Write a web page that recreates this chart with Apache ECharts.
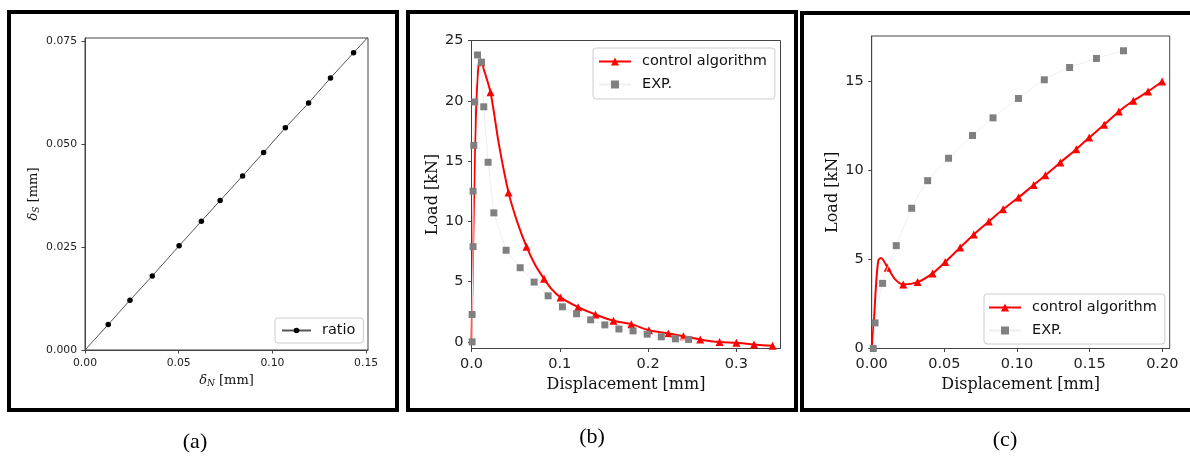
<!DOCTYPE html>
<html><head><meta charset="utf-8">
<script src="https://cdn.jsdelivr.net/npm/echarts@6/dist/echarts.min.js"></script>
<style>html,body{margin:0;padding:0;background:#fff}#c{width:1190px;height:462px}</style>
</head><body><div id="c"></div>
<script>
// ---------- Panel (a): delta_S vs delta_N ----------
const ratioX = [0.0124, 0.0240, 0.0359, 0.0502, 0.0621, 0.0721, 0.0841, 0.0953, 0.1069, 0.1193, 0.1310, 0.1433];
const ratioY = [0.0062, 0.0121, 0.0180, 0.0253, 0.0313, 0.0363, 0.0423, 0.0480, 0.0540, 0.0600, 0.0661, 0.0722];
const ratioLineX = [0, 0.152];          // line continues to the axes' ends (no markers)
const ratioLineY = [0, 0.0765];
const aTicksX = [0, 0.05, 0.10, 0.15];
const aTicksY = [0, 0.025, 0.050, 0.075];

// ---------- Panel (b) ----------
const algoBX = [0.0113, 0.0215, 0.0419, 0.0623, 0.0822, 0.1008, 0.1207, 0.1404, 0.1608, 0.181, 0.201, 0.223, 0.240, 0.259, 0.281, 0.300, 0.320, 0.341];
const algoBY = [23.2, 20.7, 12.4, 7.9, 5.23, 3.69, 2.88, 2.27, 1.75, 1.47, 0.97, 0.70, 0.47, 0.20, -0.02, -0.08, -0.22, -0.33];
const algoBCurveX = [0, 0.0018, 0.0040, 0.0058, 0.0078, 0.0094, 0.031, 0.052, 0.072, 0.091];   // curve nodes without markers
const algoBCurveY = [0, 7.9, 16.3, 20.5, 22.9, 23.45, 16.4, 9.9, 6.4, 4.35];
const expBX = [0.0007, 0.0007, 0.0018, 0.0018, 0.0026, 0.0037, 0.0068, 0.0113, 0.0139, 0.0188, 0.0253, 0.0392, 0.0551, 0.0709, 0.0868, 0.103, 0.119, 0.135, 0.151, 0.167, 0.183, 0.199, 0.215, 0.231, 0.246];
const expBY = [0, 2.27, 7.9, 12.5, 16.3, 19.9, 23.8, 23.2, 19.5, 14.9, 10.7, 7.6, 6.15, 4.96, 3.82, 2.91, 2.33, 1.83, 1.41, 1.07, 0.91, 0.64, 0.42, 0.25, 0.20];
const bTicksX = [0, 0.1, 0.2, 0.3];
const bTicksY = [0, 5, 10, 15, 20, 25];

// ---------- Panel (c) ----------
const algoCX = [0.011, 0.0217, 0.0316, 0.0419, 0.0506, 0.0609, 0.0703, 0.0806, 0.0904, 0.101, 0.1115, 0.1195, 0.1298, 0.1408, 0.1497, 0.160, 0.1701, 0.180, 0.1902, 0.1999];
const algoCY = [4.54, 3.60, 3.73, 4.22, 4.86, 5.68, 6.41, 7.13, 7.82, 8.48, 9.19, 9.73, 10.45, 11.2, 11.85, 12.57, 13.32, 13.92, 14.44, 15.0];
const algoCCurveX = [0, 0.0015, 0.0030, 0.0046, 0.0064, 0.016];
const algoCCurveY = [0, 1.5, 3.6, 4.97, 5.08, 3.9];
const expCX = [0.0011, 0.0023, 0.0075, 0.0169, 0.0275, 0.0385, 0.0529, 0.0694, 0.0835, 0.101, 0.1188, 0.1362, 0.1547, 0.1733];
const expCY = [0, 1.44, 3.66, 5.78, 7.88, 9.43, 10.69, 11.97, 12.96, 14.05, 15.1, 15.79, 16.3, 16.73];
const cTicksX = [0, 0.05, 0.10, 0.15, 0.20];
const cTicksY = [0, 5, 10, 15];

const panelLabels = ['(a)', '(b)', '(c)'];
const seriesNames = ['ratio', 'control algorithm', 'EXP.'];

// ---------- helpers ----------
const zip = (xs, ys) => xs.map((x, i) => [x, ys[i]]);
function merged(markX, markY, plainX, plainY) {
  const a = zip(markX, markY).map(p => ({ value: p }));
  const b = zip(plainX, plainY).map(p => ({ value: p, symbol: 'none' }));
  return a.concat(b).sort((p, q) => p.value[0] - q.value[0]);
}
const SANS = 'DejaVu Sans', SERIF = 'DejaVu Serif';
const AX = '#444';

function valueAxis(gi, min, max, ticks, dec, fs, name, gap, nameStyle) {
  return {
    type: 'value', gridIndex: gi, min: min, max: max,
    axisLine: { show: true, onZero: false, lineStyle: { color: AX, width: 1 } },
    axisTick: { show: true, length: 3.5, inside: false, customValues: ticks, lineStyle: { color: AX } },
    axisLabel: { customValues: ticks, formatter: v => Number(v).toFixed(dec), fontFamily: SANS, fontSize: fs, color: '#222', margin: 8 },
    splitLine: { show: false },
    name: name, nameLocation: 'middle', nameGap: gap, nameTextStyle: nameStyle
  };
}
const richName = (fs) => ({
  fontFamily: SERIF, fontSize: fs, color: '#111',
  rich: {
    d: { fontFamily: SERIF, fontStyle: 'italic', fontSize: fs, color: '#111' },
    s: { fontFamily: SERIF, fontStyle: 'italic', fontSize: Math.round(fs * 0.7), color: '#111', padding: [6, 0, 0, 0] },
    t: { fontFamily: SERIF, fontSize: fs, color: '#111' }
  }
});
const serifName = { fontFamily: SERIF, fontSize: 16, color: '#111' };

const legendBase = {
  orient: 'vertical', backgroundColor: 'rgba(255,255,255,0.8)', borderColor: '#cccccc', borderWidth: 1, borderRadius: 3,
  textStyle: { fontFamily: SANS, fontSize: 14.5, color: '#111', padding: [0, 0, 0, 6] },
  selectedMode: false
};

const option = {
  animation: false,
  backgroundColor: '#fff',
  grid: [
    { left: 85, top: 38, width: 283, height: 312, show: true, borderColor: AX, borderWidth: 1 },
    { left: 471.5, top: 40.5, width: 309, height: 308, show: true, borderColor: AX, borderWidth: 1 },
    { left: 871.7, top: 36, width: 298, height: 312.5, show: true, borderColor: AX, borderWidth: 1 }
  ],
  xAxis: [
    valueAxis(0, 0, 0.151, aTicksX, 2, 10.8, '{d|δ}{s|N}{t| [mm]}', 20, richName(13)),
    valueAxis(1, 0, 0.35, bTicksX, 1, 14.5, 'Displacement [mm]', 25, serifName),
    valueAxis(2, 0, 0.2051, cTicksX, 2, 14.5, 'Displacement [mm]', 24, serifName)
  ],
  yAxis: [
    valueAxis(0, 0, 0.0758, aTicksY, 3, 10.8, '{d|δ}{s|S}{t| [mm]}', 44, richName(13)),
    valueAxis(1, -0.55, 25, bTicksY, 0, 14.5, 'Load [kN]', 31, serifName),
    valueAxis(2, 0, 17.56, cTicksY, 0, 14.5, 'Load [kN]', 31, serifName)
  ],
  legend: [
    Object.assign({}, legendBase, { data: [seriesNames[0]], left: 275, top: 318, padding: [5, 8, 5, 6], itemWidth: 29, itemHeight: 7 }),
    Object.assign({}, legendBase, { data: [seriesNames[1], seriesNames[2]], left: 593, top: 48, padding: [6, 8, 7, 5], itemWidth: 32, itemHeight: 10, itemGap: 8 }),
    Object.assign({}, legendBase, { data: [seriesNames[1], seriesNames[2]], left: 984, top: 294, padding: [6, 8, 6, 4], itemWidth: 32, itemHeight: 10, itemGap: 8 })
  ],
  series: [
    { name: seriesNames[0], type: 'line', xAxisIndex: 0, yAxisIndex: 0,
      data: merged(ratioX, ratioY, ratioLineX, ratioLineY),
      symbol: 'circle', symbolSize: 5.5, showAllSymbol: true, clip: true,
      lineStyle: { color: '#555', width: 1 }, itemStyle: { color: '#000' } },
    { name: seriesNames[1], type: 'line', xAxisIndex: 1, yAxisIndex: 1,
      data: merged(algoBX, algoBY, algoBCurveX, algoBCurveY),
      smooth: 0.25, symbol: 'triangle', symbolSize: 8, showAllSymbol: true,
      lineStyle: { color: '#ff0000', width: 2 }, itemStyle: { color: '#ff0000' }, z: 2 },
    { name: seriesNames[2], type: 'line', xAxisIndex: 1, yAxisIndex: 1,
      data: zip(expBX, expBY),
      symbol: 'rect', symbolSize: 7, showAllSymbol: true,
      lineStyle: { color: '#eeeeee', width: 1 }, itemStyle: { color: '#808080' }, z: 3 },
    { name: seriesNames[1], type: 'line', xAxisIndex: 2, yAxisIndex: 2,
      data: merged(algoCX, algoCY, algoCCurveX, algoCCurveY),
      smooth: 0.25, symbol: 'triangle', symbolSize: 8, showAllSymbol: true,
      lineStyle: { color: '#ff0000', width: 2 }, itemStyle: { color: '#ff0000' }, z: 2 },
    { name: seriesNames[2], type: 'line', xAxisIndex: 2, yAxisIndex: 2,
      data: zip(expCX, expCY),
      smooth: 0.3, symbol: 'rect', symbolSize: 7, showAllSymbol: true,
      lineStyle: { color: '#eeeeee', width: 1 }, itemStyle: { color: '#808080' }, z: 3 }
  ],
  graphic: [
    { type: 'rect', shape: { x: 9, y: 12, width: 388, height: 398 }, style: { fill: 'none', stroke: '#000', lineWidth: 4 }, silent: true },
    { type: 'rect', shape: { x: 408, y: 12, width: 388, height: 398 }, style: { fill: 'none', stroke: '#000', lineWidth: 4 }, silent: true },
    { type: 'rect', shape: { x: 802, y: 13, width: 394, height: 397 }, style: { fill: 'none', stroke: '#000', lineWidth: 4 }, silent: true },
    { type: 'text', style: { text: panelLabels[0], x: 195, y: 442, align: 'center', verticalAlign: 'middle', font: '22px "Liberation Serif"', fill: '#000' } },
    { type: 'text', style: { text: panelLabels[1], x: 592, y: 437, align: 'center', verticalAlign: 'middle', font: '22px "Liberation Serif"', fill: '#000' } },
    { type: 'text', style: { text: panelLabels[2], x: 1005, y: 440, align: 'center', verticalAlign: 'middle', font: '22px "Liberation Serif"', fill: '#000' } }
  ]
};
const chart = echarts.init(document.getElementById('c'));
chart.setOption(option);
</script>
</body></html>
